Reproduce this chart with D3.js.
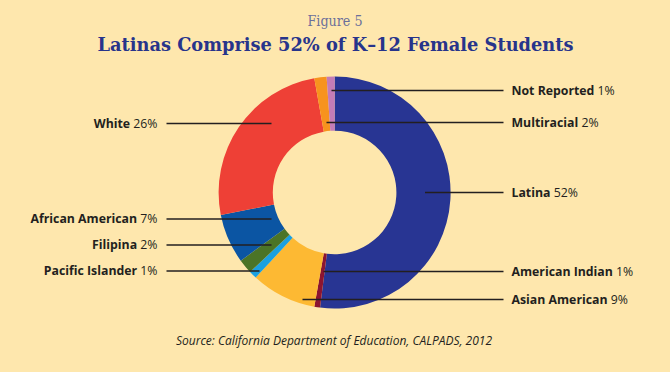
<!DOCTYPE html>
<html><head><meta charset="utf-8">
<script src="https://cdn.jsdelivr.net/npm/d3@7"></script>
<style>
html,body{margin:0;padding:0;background:#fee7ad;}
svg{display:block;}
</style></head>
<body><svg id="c" width="670" height="372"></svg>
<script>
// Data (clockwise from 12 o'clock)
const categories = ["Latina","American Indian","Asian American","Pacific Islander","Filipina","African American","White","Multiracial","Not Reported"];
const shares     = [52, 0.8, 9.1, 1.1, 2.0, 6.9, 25.3, 1.7, 1.1];
const labelPct   = ["52%","1%","9%","1%","2%","7%","26%","2%","1%"];
const colors     = ["#283593","#8c1531","#fdb933","#1ba0e0","#4b7427","#0b55a3","#ee4036","#f7931e","#c37cb7"];

// Label layout (annotation placement)
const labelSide  = ["right","right","right","left","left","left","left","right","right"];
const labelY     = [192.5, 271.5, 299.5, 271, 245, 219, 123.5, 122.5, 90.5];
const lineInnerX = [425, 323.5, 302.5, 259.5, 271.5, 271.5, 271.5, 326.5, 331.5];

const svg = d3.select("#c");
const W = 670, H = 372;
svg.append("rect").attr("width",W).attr("height",H).attr("fill","#fee7ad");

svg.append("text").attr("x",335).attr("y",25.5).attr("text-anchor","middle")
  .attr("font-family","DejaVu Serif").attr("font-size",14).attr("fill","#6b6f9a")
  .attr("textLength",55).attr("lengthAdjust","spacingAndGlyphs").text("Figure 5");
svg.append("text").attr("x",335.5).attr("y",51).attr("text-anchor","middle")
  .attr("font-family","DejaVu Serif").attr("font-weight","bold").attr("font-size",18).attr("fill","#27348b")
  .attr("textLength",476).attr("lengthAdjust","spacingAndGlyphs").text("Latinas Comprise 52% of K\u201312 Female Students");

const cx = 334.6, cy = 192.5, rO = 116, rI = 61.8;
const pie = d3.pie().sort(null).value(d => d)(shares);
const arc = d3.arc().innerRadius(rI).outerRadius(rO);
const g = svg.append("g").attr("transform",`translate(${cx},${cy})`);
g.selectAll("path").data(pie).join("path").attr("d",arc).attr("fill",(d,i)=>colors[i]);

const lineRightX = 503.5, lineLeftX = 166.5;
categories.forEach((c,i)=>{
  const right = labelSide[i]==="right";
  svg.append("line").attr("x1",lineInnerX[i]).attr("x2",right?lineRightX:lineLeftX)
    .attr("y1",labelY[i]).attr("y2",labelY[i]).attr("stroke","#231f20").attr("stroke-width",1.6);
  const t = svg.append("text").attr("x",right?511.5:157.5).attr("y",labelY[i]+4.4)
    .attr("text-anchor",right?"start":"end").attr("font-family","Open Sans").attr("font-size",12.3).attr("fill","#231f20");
  t.append("tspan").attr("font-weight","bold").text(c);
  t.append("tspan").text(" "+labelPct[i]);
});

svg.append("text").attr("x",334).attr("y",345).attr("text-anchor","middle")
  .attr("font-family","Open Sans").attr("font-style","italic").attr("font-size",12).attr("fill","#231f20")
  .text("Source: California Department of Education, CALPADS, 2012");
</script></body></html>
